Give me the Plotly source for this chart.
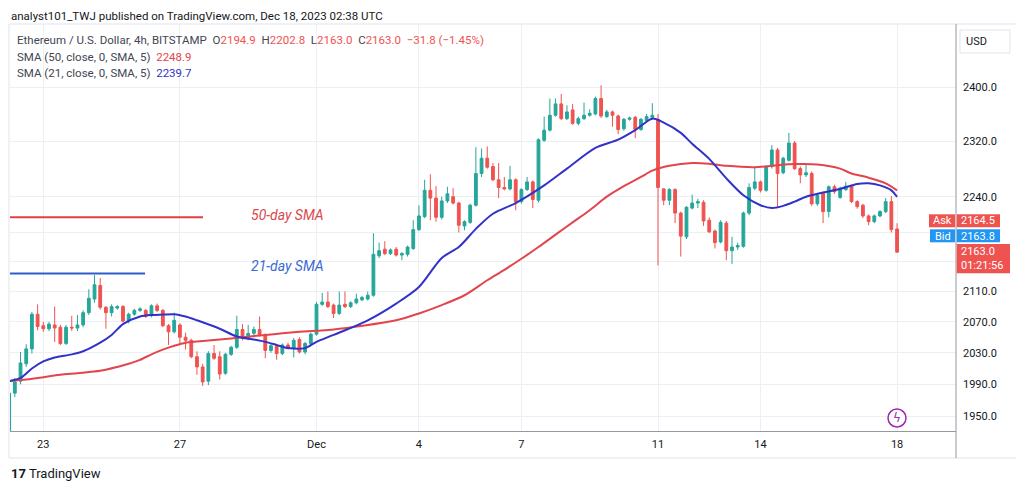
import numpy as np
import pandas as pd
import plotly.graph_objects as go

# ---------------- data ----------------
open_ = [1930,1979,1994,2016,2035,2080,2065,2061,2066,2063,2042,2063,2062,2066,2082,2100,2118,2089,2082,2088,
         2090,2071,2080,2085,2085,2078,2091,2085,2065,2057,2066,2050,2046,2025,2012,1994,2029,2025,2004,2028,
         2037,2060,2049,2055,2060,2053,2033,2039,2029,2040,2036,2047,2031,2042,2054,2093,2096,2092,2081,2093,
         2090,2095,2099,2100,2105,2158,2167,2161,2167,2159,2160,2168,2194,2212,2249,2238,2211,2234,2240,2231,
         2199,2204,2228,2273,2295,2283,2264,2253,2251,2264,2233,2250,2261,2235,2321,2336,2358,2375,2353,2366,
         2346,2353,2358,2360,2383,2356,2363,2357,2338,2352,2355,2337,2350,2355,2352,2251,2235,2250,2217,2184,
         2224,2231,2232,2207,2192,2177,2203,2165,2170,2171,2217,2252,2261,2249,2283,2307,2274,2292,2317,2280,
         2271,2273,2230,2245,2219,2254,2239,2250,2255,2233,2228,2213,2205,2213,2219,2233,2194.9]
high = [1982,1998,2031,2041,2083,2093,2070,2070,2090,2066,2066,2078,2079,2085,2113,2132,2128,2091,2093,2092,
        2092,2082,2087,2089,2087,2093,2094,2087,2067,2082,2068,2056,2048,2032,2016,2032,2040,2032,2030,2039,
        2078,2067,2066,2064,2077,2055,2041,2041,2042,2043,2049,2050,2044,2056,2096,2108,2110,2094,2110,2110,
        2097,2107,2104,2110,2189,2176,2178,2168,2170,2163,2172,2207,2228,2264,2272,2255,2240,2254,2252,2233,
        2207,2230,2311,2309,2312,2288,2288,2268,2284,2266,2252,2268,2263,2324,2356,2383,2383,2390,2373,2375,
        2356,2377,2367,2386,2403,2366,2365,2359,2354,2356,2357,2354,2360,2376,2360,2252,2252,2252,2219,2227,
        2243,2237,2235,2211,2194,2207,2206,2184,2176,2219,2259,2282,2263,2285,2314,2310,2297,2332,2320,2283,
        2285,2276,2244,2247,2256,2257,2254,2261,2257,2235,2230,2215,2215,2221,2238,2241,2202.8]
low = [1925,1974,1990,2012,2029,2059,2057,2058,2044,2040,2040,2058,2058,2063,2079,2095,2086,2061,2077,2086,
       2069,2068,2078,2083,2075,2076,2083,2063,2040,2055,2040,2034,2023,2002,1988,1989,2021,1996,2002,2026,
       2035,2046,2046,2053,2051,2023,2030,2021,2027,2034,2024,2029,2028,2040,2052,2091,2088,2075,2079,2088,
       2088,2093,2097,2098,2103,2155,2159,2159,2157,2152,2157,2166,2192,2210,2207,2205,2208,2231,2229,2190,
       2193,2202,2226,2268,2280,2262,2238,2249,2249,2221,2230,2248,2224,2232,2319,2334,2356,2351,2351,2344,
       2343,2351,2356,2358,2354,2354,2341,2330,2335,2350,2324,2335,2348,2352,2145,2228,2228,2203,2157,2181,
       2222,2224,2199,2189,2168,2175,2152,2147,2166,2169,2214,2249,2246,2247,2280,2226,2272,2290,2278,2259,
       2268,2227,2227,2203,2211,2244,2237,2248,2231,2223,2210,2200,2203,2211,2217,2190,2163.0]
close = [1979,1993,2017,2035,2080,2064,2061,2067,2062,2042,2063,2062,2066,2082,2101,2119,2089,2082,2090,2090,
         2071,2080,2085,2087,2077,2091,2085,2065,2057,2072,2050,2046,2025,2012,1993,2029,2023,2003,2028,2037,
         2060,2049,2055,2060,2053,2033,2039,2029,2040,2036,2046,2031,2042,2054,2093,2096,2090,2081,2092,2090,
         2095,2100,2102,2105,2160,2165,2161,2166,2159,2161,2170,2194,2213,2249,2238,2211,2234,2244,2231,2200,
         2205,2228,2273,2295,2282,2264,2253,2251,2264,2233,2250,2261,2236,2322,2336,2358,2375,2353,2363,2346,
         2353,2358,2361,2383,2357,2363,2358,2337,2352,2354,2337,2352,2356,2358,2253,2235,2250,2217,2185,2225,
         2231,2233,2206,2191,2176,2204,2165,2170,2172,2217,2253,2261,2249,2283,2307,2273,2295,2317,2280,2271,
         2274,2230,2242,2219,2254,2247,2252,2255,2233,2226,2213,2205,2213,2219,2233,2194,2163.0]

times = pd.date_range("2023-11-22 00:00", periods=len(close), freq="4h")

sma21_idx = [0,2,4,6,8,11,13,16,18,20,23,25,27,29,31,33,37,40,43,45,47,49,52,54,57,63,68,72,76,79,82,85,89,
             94,98,103,107,110,113,115,118,120,123,126,129,132,134,136,138,140,143,146,149,151,153,155,156]
sma21 = [1994,1998,2010,2019,2024,2028,2032,2043,2053,2067,2077,2079,2079.5,2080,2077,2072,2061,2051,2047,2044,
         2040,2036,2036,2044,2053,2072,2094,2116,2155,2170,2195,2216,2231,2256,2280,2310,2322,2336,2353,2347,
         2332,2316,2294,2266,2242,2228,2224,2227,2233,2240,2246,2251,2258,2259,2256,2249,2239.7]
sma50_idx = [0,3,5,9,12,16,19,21,23,25,27,29,31,33,36,39,42,45,48,51,54,57,68,72,76,80,84,87,90,93,96,99,102,
             105,108,111,113,116,120,123,126,131,135,138,142,146,148,151,154,156]
sma50 = [1994,1996,1998,2002,2004,2007,2012,2016,2021,2028,2034,2039,2043,2044.5,2046.5,2048.5,2050.7,2053,
         2055,2057,2058.5,2060,2072,2081,2092,2105,2125,2139,2154,2170,2187,2204,2221,2240,2255,2268,2277,2284,
         2288,2287,2284,2282,2285,2286.6,2286,2280,2273,2267,2259,2248.9]

date_ticks = ["2023-11-23", "2023-11-27", "2023-12-01", "2023-12-04", "2023-12-07",
              "2023-12-11", "2023-12-14", "2023-12-18"]
date_labels = ["23", "27", "Dec", "4", "7", "11", "14", "18"]
price_ticks = [1950, 1990, 2030, 2070, 2110, 2150, 2190, 2240, 2320, 2400]
price_labels = ["1950.0", "1990.0", "2030.0", "2070.0", "2110.0", "", "", "2240.0", "2320.0", "2400.0"]

ask_price, bid_price, last_price = 2164.5, 2163.8, 2163.0
level_50, level_21 = 2211, 2134
y_low, y_high = 1932.3, 2497.7

# ---------------- styling / geometry ----------------
OFF = 8                      # page body margin
W, H = 1024 - OFF, 491 - OFF
PL, PR, PT, PB = 10, 956, 24, 431   # plot area in screen pixels
UP, DOWN = "#26a69a", "#ef5350"
BLUE_SMA, RED_SMA = "#3232c8", "#e2454c"
FONT = "Roboto"
TXT = "#131722"


def px(x):
    return (x - PL) / (PR - PL)


def py(y):
    return (PB - y) / (PB - PT)


fig = go.Figure()

fig.add_trace(go.Candlestick(
    x=times, open=open_, high=high, low=low, close=close,
    increasing=dict(line=dict(color=UP, width=1), fillcolor=UP),
    decreasing=dict(line=dict(color=DOWN, width=1), fillcolor=DOWN),
    whiskerwidth=0, showlegend=False, hoverinfo="skip"))

fig.add_trace(go.Scatter(x=times[sma50_idx], y=sma50, mode="lines",
                         line=dict(color=RED_SMA, width=2, shape="spline", smoothing=0.8),
                         showlegend=False, hoverinfo="skip"))
fig.add_trace(go.Scatter(x=times[sma21_idx], y=sma21, mode="lines",
                         line=dict(color=BLUE_SMA, width=2, shape="spline", smoothing=0.8),
                         showlegend=False, hoverinfo="skip"))

# analyst drawings (horizontal levels)
fig.add_trace(go.Scatter(x=["2023-11-22 00:36", "2023-11-27 16:15"], y=[level_50, level_50], mode="lines",
                         line=dict(color="#e0403f", width=2), showlegend=False, hoverinfo="skip"))
fig.add_trace(go.Scatter(x=["2023-11-22 00:36", "2023-11-25 23:30"], y=[level_21, level_21], mode="lines",
                         line=dict(color="#2f5ccc", width=2), showlegend=False, hoverinfo="skip"))

shapes = []
shapes.append(dict(type="line", xref="paper", x0=0, x1=1, yref="y",
                   y0=np.log10(last_price), y1=np.log10(last_price),
                   line=dict(color=DOWN, width=1, dash="dot"), layer="below"))
shapes.append(dict(type="rect", xref="paper", yref="paper", x0=px(9), x1=px(1018), y0=py(458), y1=py(24),
                   line=dict(color="#e0e3eb", width=1), fillcolor="rgba(0,0,0,0)", layer="below"))
shapes.append(dict(type="line", xref="paper", yref="paper", x0=px(PR), x1=px(PR), y0=py(458), y1=py(24),
                   line=dict(color="#9598a1", width=1)))
shapes.append(dict(type="rect", xref="paper", yref="paper", x0=px(960), x1=px(1010), y0=py(53), y1=py(30),
                   line=dict(color="#e0e3eb", width=1), fillcolor="white"))


def box(x0, x1, y0, y1, color):
    shapes.append(dict(type="rect", xref="paper", yref="paper", x0=px(x0), x1=px(x1), y0=py(y1), y1=py(y0),
                       line=dict(width=0), fillcolor=color))


box(929, 955, 214.3, 227.3, DOWN)
box(956.7, 1000, 214.3, 227.3, DOWN)
box(930, 955, 229.3, 242.3, "#2196f3")
box(956.7, 1000, 229.3, 242.3, "#2196f3")
box(956.7, 1010, 244, 273.3, DOWN)
shapes.append(dict(type="circle", xref="paper", yref="paper", x0=px(888), x1=px(906), y0=py(427), y1=py(409),
                   line=dict(color="#9c27b0", width=1.5), fillcolor="white"))

ann = []


def text(x, y, s, size=11, color=TXT, anchor="left", family=FONT, yanchor="middle"):
    ann.append(dict(xref="paper", yref="paper", x=px(x), y=py(y), text=s, showarrow=False,
                    xanchor=anchor, yanchor=yanchor, borderpad=0,
                    font=dict(size=size, color=color, family=family)))


def red(s):
    return f'<span style="color:{DOWN}">{s}</span>'


text(10, OFF, "analyst101_TWJ published on TradingView.com, Dec 18, 2023 02:38 UTC", 11.5, yanchor="top")
GR = "#434651"
line1 = (f'<span style="color:{GR}">Ethereum / U.S. Dollar, 4h, BITSTAMP</span>&nbsp;&nbsp;'
         f'<span style="color:{GR}">O</span>{red(open_[-1])}&nbsp;&nbsp;'
         f'<span style="color:{GR}">H</span>{red(high[-1])}&nbsp;&nbsp;'
         f'<span style="color:{GR}">L</span>{red(low[-1])}&nbsp;&nbsp;'
         f'<span style="color:{GR}">C</span>{red(close[-1])}&nbsp;&nbsp;'
         + red("−31.8 (−1.45%)"))
text(16, 40, line1, 11.5)
text(16, 57, f'<span style="color:{GR}">SMA (50, close, 0, SMA, 5)</span>&nbsp;&nbsp;'
             f'<span style="color:{RED_SMA}">{sma50[-1]}</span>', 11.5)
text(16, 73, f'<span style="color:{GR}">SMA (21, close, 0, SMA, 5)</span>&nbsp;&nbsp;'
             f'<span style="color:{BLUE_SMA}">{sma21[-1]}</span>', 11.5)

text(250, 215, "<i>50-day SMA</i>", 14, "#d9474c")
text(250, 266, "<i>21-day SMA</i>", 14, "#3a68d4")

text(965, 41.5, "USD", 11)
text(942, 221, "Ask", 11, "white", "center")
text(960, 221, f"{ask_price}", 11, "white")
text(942.5, 236, "Bid", 11, "white", "center")
text(960, 236, f"{bid_price}", 11, "white")
text(960, 251, f"{last_price:.1f}", 11, "white")
text(960, 265, "01:21:56", 11, "white")
text(897, 418, "ϟ", 12, "#9c27b0", "center", "DejaVu Sans")
text(10, 473, "<b>17</b> TradingView", 13, TXT)

fig.update_layout(
    width=W, height=H,
    margin=dict(l=PL - OFF, r=W - (PR - OFF), t=PT - OFF, b=H - (PB - OFF)),
    paper_bgcolor="white", plot_bgcolor="white",
    font=dict(family=FONT, size=11, color=TXT),
    showlegend=False,
    shapes=shapes, annotations=ann,
    xaxis=dict(type="date", range=["2023-11-22 00:36", "2023-12-19 17:25"],
               rangeslider=dict(visible=False),
               tickvals=date_ticks, ticktext=date_labels,
               showgrid=True, gridcolor="#eceff4", gridwidth=1,
               showline=True, linecolor="#9598a1", linewidth=1,
               ticks="", ticklabelstandoff=3, zeroline=False,
               tickfont=dict(size=11, color=TXT, family=FONT)),
    yaxis=dict(type="log", side="right", range=[np.log10(y_low), np.log10(y_high)],
               tickvals=price_ticks, ticktext=price_labels,
               showgrid=True, gridcolor="#eceff4", gridwidth=1,
               showline=False, ticks="", ticklabelstandoff=6, zeroline=False,
               tickfont=dict(size=11, color=TXT, family=FONT)),
)

fig.write_html("out.html", config={"displayModeBar": False})
